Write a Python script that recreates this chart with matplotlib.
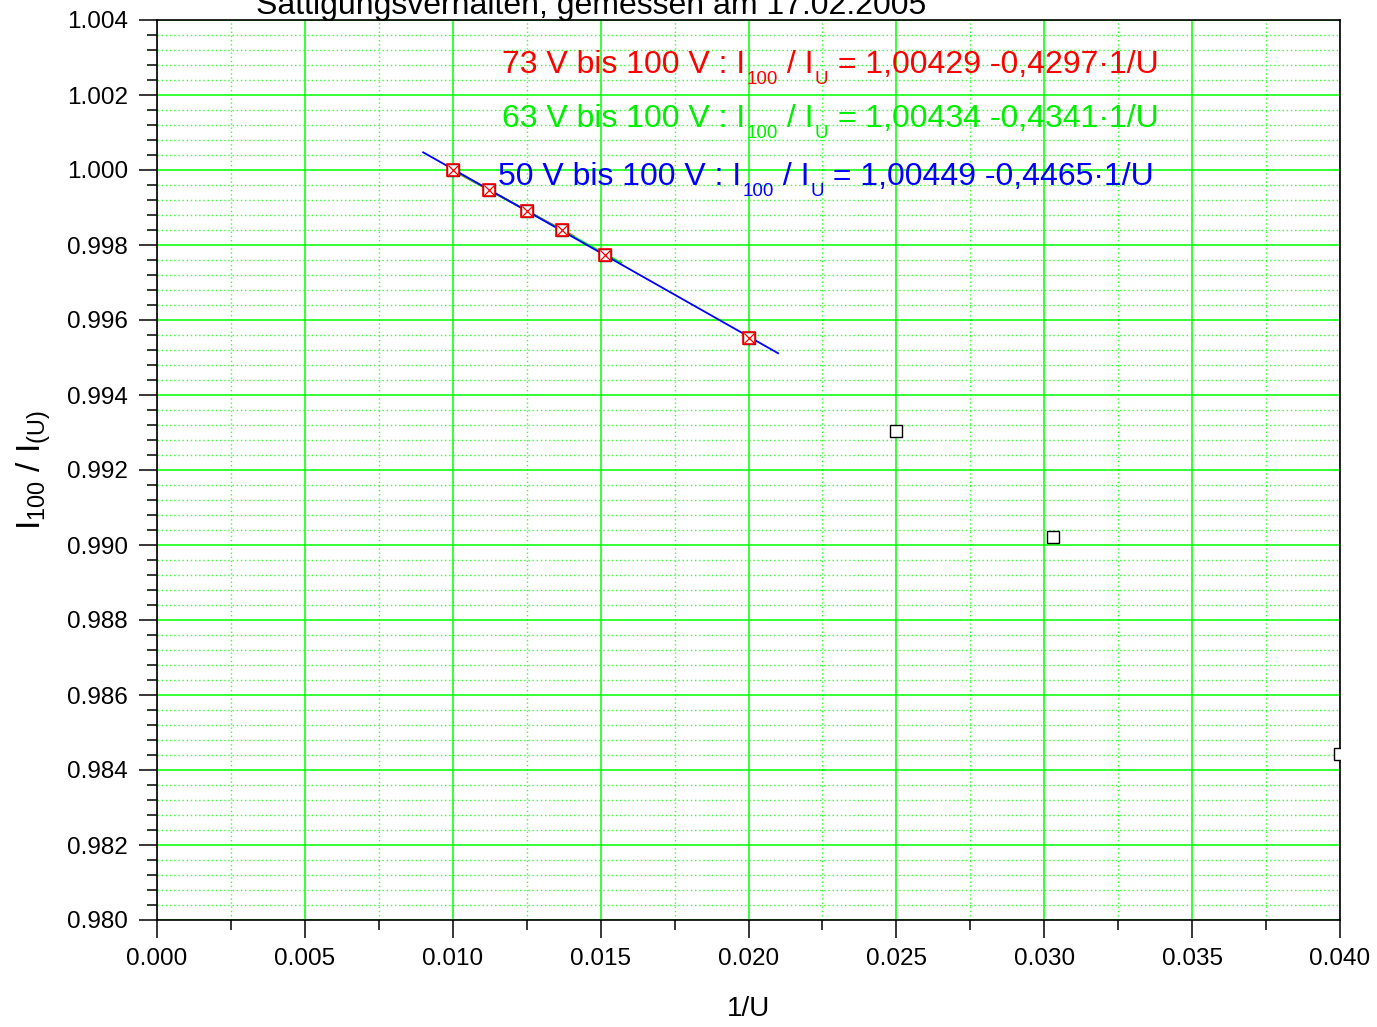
import matplotlib.pyplot as plt
import numpy as np
from matplotlib.ticker import MultipleLocator, FormatStrFormatter

plt.rcParams['font.family'] = ['Liberation Sans', 'DejaVu Sans']
plt.rcParams['mathtext.fontset'] = 'custom'
plt.rcParams['mathtext.rm'] = 'Liberation Sans'
plt.rcParams['mathtext.it'] = 'Liberation Sans'

# Messwerte: 1/U und I100 / I(U)
inv_u = [0.0100, 0.01124, 0.0125, 0.01370, 0.01515, 0.0200, 0.0250, 0.0303, 0.0400]
ratio = [1.0000, 0.99946, 0.99891, 0.99840, 0.99773, 0.99552, 0.99304, 0.99021, 0.98443]
n_fit = 6  # die ersten 6 Punkte (50 V bis 100 V) sind rot markiert

# Geraden-Fits (Achsenabschnitt, Steigung, Bereich in 1/U)
fit_labels = ['73 V bis 100 V', '63 V bis 100 V', '50 V bis 100 V']
fit_a = [1.00429, 1.00434, 1.00449]
fit_b = [0.4297, 0.4341, 0.4465]
fit_xmin = [0.0099, 0.0099, 0.0090]
fit_xmax = [0.0141, 0.0157, 0.0210]
fit_colors = ['#ff0000', '#00ee00', '#0000ff']

fig = plt.figure(figsize=(13.77, 10.27), dpi=100)
ax = fig.add_axes([157/1377, 1-920/1027, (1340-157)/1377, 900/1027])

ax.set_xlim(0, 0.040)
ax.set_ylim(0.980, 1.004)

# Gitter
ax.xaxis.set_major_locator(MultipleLocator(0.005))
ax.xaxis.set_minor_locator(MultipleLocator(0.0025))
ax.yaxis.set_major_locator(MultipleLocator(0.002))
ax.yaxis.set_minor_locator(MultipleLocator(0.0004))
ax.xaxis.set_major_formatter(FormatStrFormatter('%.3f'))
ax.yaxis.set_major_formatter(FormatStrFormatter('%.3f'))
ax.grid(which='major', color='#00ff00', linewidth=1.1, linestyle='-')
ax.grid(which='minor', color='#33ff33', linewidth=1.0, linestyle=(0, (1, 2)))
ax.set_axisbelow(True)

ax.tick_params(which='major', direction='out', length=13, width=1.1, labelsize=17.5, pad=8)
ax.tick_params(which='minor', direction='out', length=7, width=1.1)
ax.tick_params(axis='x', pad=7)
for s in ax.spines.values():
    s.set_linewidth(1.2)
    s.set_color('black')

# Fit-Geraden
for a, b, x0, x1, c in zip(fit_a, fit_b, fit_xmin, fit_xmax, fit_colors):
    xs = np.array([x0, x1])
    ax.plot(xs, a - b * xs, color=c, linewidth=1.3, zorder=3)

# Messpunkte
ax.plot(inv_u, ratio, linestyle='none', marker='s', markersize=8,
        markerfacecolor='white', markeredgecolor='black', markeredgewidth=1.0, zorder=4)
ax.plot(inv_u[:n_fit], ratio[:n_fit], linestyle='none', marker='s', markersize=8,
        markerfacecolor='none', markeredgecolor='red', markeredgewidth=1.2, zorder=5)
ax.plot(inv_u[:n_fit], ratio[:n_fit], linestyle='none', marker='x', markersize=6.5,
        markeredgecolor='red', markeredgewidth=0.9, zorder=5)

# Beschriftung der Fits (Teilstuecke, damit die Indizes tief stehen wie im Original)
text_x = [0.01167, 0.01167, 0.01153]
text_y = [1.00259, 1.00115, 0.99960]
big = 23
small = 13.5
for lab, a, b, c, tx, ty in zip(fit_labels, fit_a, fit_b, fit_colors, text_x, text_y):
    rest = (' = ' + ('%.5f' % a).replace('.', ',') + ' -'
            + ('%.4f' % b).replace('.', ',') + '\u00b71/U')
    pieces = [(lab + ' : I', big), ('100', small), (' / I', big), ('U', small), (rest, big)]
    t0 = ax.text(tx, ty, pieces[0][0], color=c, fontsize=big, ha='left', va='baseline', zorder=6)
    prev = t0
    for txt, fs in pieces[1:]:
        if fs == big:
            prev = ax.annotate(txt, xy=(1, 0), xycoords=(prev, t0), xytext=(0, 0),
                               textcoords='offset points', color=c, fontsize=fs,
                               ha='left', va='bottom', zorder=6)
        else:
            prev = ax.annotate(txt, xy=(1, 0), xycoords=(prev, t0), xytext=(1, 6.5),
                               textcoords='offset points', color=c, fontsize=fs,
                               ha='left', va='top', zorder=6)

ax.set_xlabel('1/U', fontsize=20, labelpad=19)
ax.set_ylabel(r'I$_{100}$ / I$_{(\mathrm{U})}$', fontsize=24, labelpad=10)

fig.text(591/1377, 1-14/1027, 'Sättigungsverhalten, gemessen am 17.02.2005',
         fontsize=23, ha='center', va='baseline')

plt.savefig('out.png', dpi=100)
